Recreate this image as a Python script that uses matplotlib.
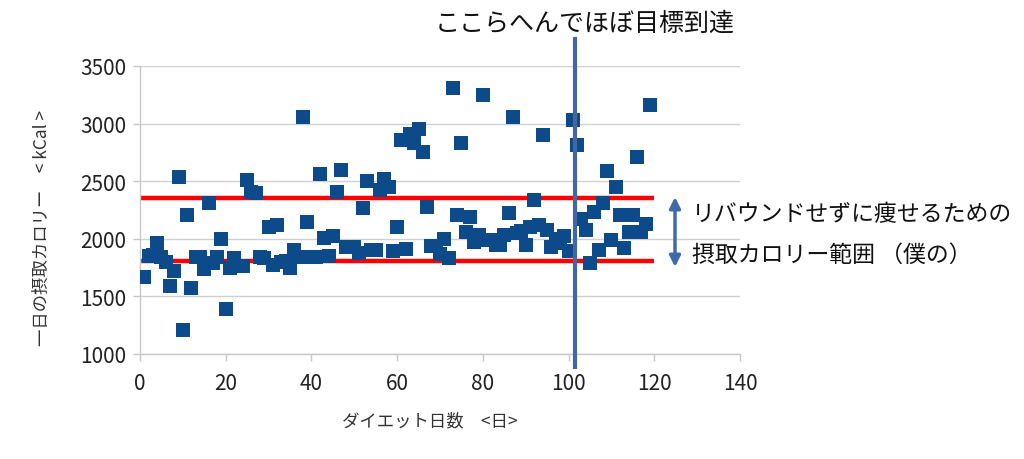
import matplotlib
matplotlib.use("Agg")
import matplotlib.pyplot as plt

plt.rcParams['font.family'] = ['Noto Sans CJK JP', 'DejaVu Sans']

days = list(range(1, 120))
calories = [
    1670, 1850, 1860, 1960, 1840, 1800, 1590, 1720, 2540, 1210,
    2210, 1570, 1840, 1840, 1740, 2310, 1790, 1840, 2000, 1390,
    1750, 1830, 1760, 1760, 2510, 2410, 2400, 1840, 1830, 2100,
    1770, 2120, 1800, 1810, 1750, 1900, 1840, 3060, 2150, 1840,
    1840, 2560, 2010, 1850, 2020, 2410, 2600, 1930, 1930, 1930,
    1880, 2270, 2500, 1900, 1900, 2420, 2520, 2450, 1890, 2100,
    2860, 1910, 2910, 2830, 2950, 2750, 2280, 1940, 1940, 1870,
    2000, 1830, 3310, 2210, 2830, 2060, 2190, 1970, 2030, 3250,
    1990, 1990, 1950, 1950, 2030, 2220, 3060, 2050, 2070, 1950,
    2100, 2340, 2120, 2900, 2080, 1930, 1960, 2000, 2020, 1890,
    3030, 2810, 2170, 2080, 1790, 2230, 1900, 2310, 2590, 1990,
    2450, 2210, 1920, 2060, 2210, 2710, 2060, 2130, 3160,
]
upper_limit = 2350
lower_limit = 1810
limit_days = [0, 120]
goal_day = 101.5

x_ticks = [0, 20, 40, 60, 80, 100, 120, 140]
y_ticks = [1000, 1500, 2000, 2500, 3000, 3500]

title_text = "ここらへんでほぼ目標到達"
note_line1 = "リバウンドせずに痩せるための"
note_line2 = "摂取カロリー範囲 （僕の）"
xlabel = "ダイエット日数　<日>"
ylabel = "一日の摂取カロリー　< kCal >"

fig = plt.figure(figsize=(10.24, 4.6), dpi=100)
ax = fig.add_axes([140/1024, 1-355/460, 600/1024, 288/460])

ax.set_xlim(0, 140)
ax.set_ylim(1000, 3500)
ax.set_xticks(x_ticks)
ax.set_yticks(y_ticks)
ax.grid(axis='y', color='#d0d0d0', linewidth=1.0)
ax.set_axisbelow(True)
for s in ['top', 'right']:
    ax.spines[s].set_visible(False)
for s in ['left', 'bottom']:
    ax.spines[s].set_color('#c8c8c8')
    ax.spines[s].set_linewidth(1.0)
ax.tick_params(axis='both', colors='#c8c8c8', length=5, width=1.0,
               labelcolor='#222222', labelsize=15)
ax.tick_params(axis='y', pad=5)
ax.tick_params(axis='x', pad=8)

ax.plot(limit_days, [upper_limit, upper_limit], color='#ff0000', linewidth=3.2, zorder=2, solid_capstyle='butt')
ax.plot(limit_days, [lower_limit, lower_limit], color='#ff0000', linewidth=3.2, zorder=2, solid_capstyle='butt')

ax.scatter(days, calories, marker='s', s=88, color='#0d4a8a', linewidths=0, zorder=3)

ax.axvline(goal_day, ymin=-0.045, ymax=1.094, color='#44679f', linewidth=3.0, clip_on=False, zorder=4)

fig.text(585/1024, 1-24/460, title_text, ha='center', va='center', fontsize=18, color='#111111')

ax.annotate('', xy=(675/1024, 1-268/460), xytext=(675/1024, 1-198/460),
            xycoords='figure fraction', textcoords='figure fraction',
            arrowprops=dict(arrowstyle='<|-|>', color='#3e6aa8', lw=2.5,
                            mutation_scale=16, shrinkA=0, shrinkB=0))
fig.text(692/1024, 1-215/460, note_line1, ha='left', va='center', fontsize=16.5, color='#111111')
fig.text(692/1024, 1-255/460, note_line2, ha='left', va='center', fontsize=16.5, color='#111111')

fig.text(430/1024, 1-421/460, xlabel, ha='center', va='center', fontsize=12.5, color='#333333')
fig.text(42/1024, 1-228/460, ylabel, rotation=90, ha='center', va='center',
         fontsize=12.5, color='#333333')

fig.savefig('out.png', dpi=100)
